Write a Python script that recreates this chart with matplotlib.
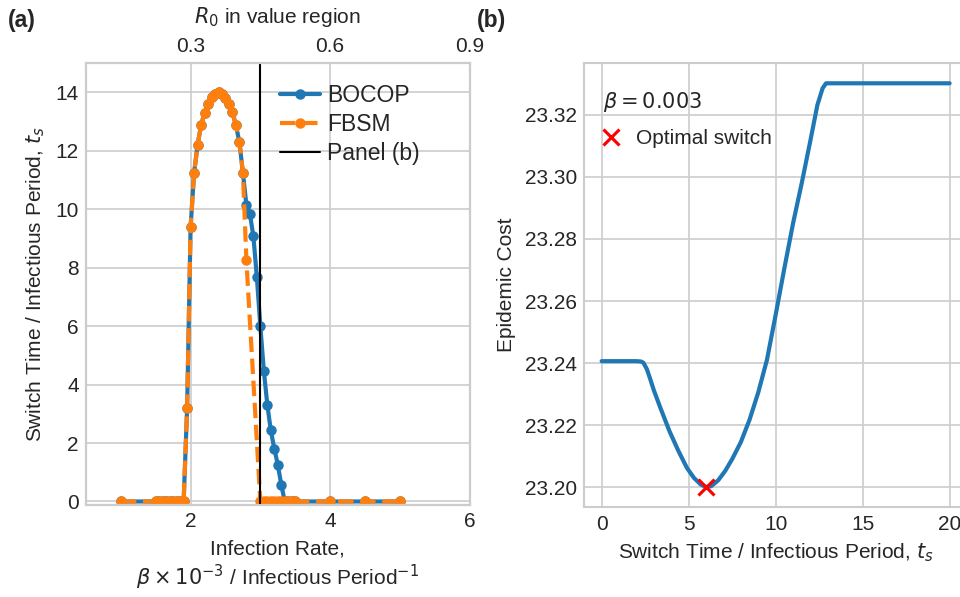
import matplotlib.pyplot as plt
import numpy as np

plt.style.use('seaborn-v0_8-whitegrid')
plt.rcParams['font.sans-serif'] = ['Liberation Sans', 'DejaVu Sans']

# switch time vs infection rate (beta in units of 1e-3)
beta_bocop = [1.0, 1.5, 1.55, 1.6, 1.65, 1.7, 1.75, 1.8, 1.85, 1.9, 1.95,
              2.0, 2.05, 2.1, 2.15, 2.2, 2.25, 2.3, 2.35, 2.4, 2.45, 2.5,
              2.55, 2.6, 2.65, 2.7, 2.75, 2.8, 2.85, 2.9, 2.95, 3.0, 3.05,
              3.1, 3.15, 3.2, 3.25, 3.3, 3.35, 3.4, 3.45, 3.5, 4.0, 4.5, 5.0]
ts_bocop = [0, 0, 0, 0, 0, 0, 0, 0, 0, 0, 3.2,
            9.4, 11.25, 12.2, 12.88, 13.3, 13.6, 13.83, 13.95, 14.0, 13.93, 13.8,
            13.62, 13.32, 12.87, 12.3, 11.25, 10.15, 9.85, 9.08, 7.68, 6.0, 4.48,
            3.31, 2.43, 1.81, 1.26, 0.58, 0, 0, 0, 0, 0, 0, 0]

beta_fbsm = [1.0, 1.5, 1.55, 1.6, 1.65, 1.7, 1.75, 1.8, 1.85, 1.9, 1.95,
             2.0, 2.05, 2.1, 2.15, 2.2, 2.25, 2.3, 2.35, 2.4, 2.45, 2.5,
             2.55, 2.6, 2.65, 2.7, 2.75, 2.8, 3.0, 3.05, 3.1, 3.15, 3.2,
             3.25, 3.3, 3.35, 3.4, 3.45, 3.5, 4.0, 4.5, 5.0]
ts_fbsm = [0, 0, 0, 0, 0, 0, 0, 0, 0, 0, 3.2,
           9.4, 11.25, 12.2, 12.88, 13.3, 13.6, 13.83, 13.95, 14.0, 13.93, 13.8,
           13.62, 13.32, 12.87, 12.3, 11.25, 8.25, 0, 0, 0, 0, 0,
           0, 0, 0, 0, 0, 0, 0, 0, 0]

beta_panel_b = 3.0
r0_ticks = [2, 4, 6]
r0_labels = ['0.3', '0.6', '0.9']

# epidemic cost vs switch time at beta = 0.003
t_switch = [0, 1, 2, 2.25, 2.4, 2.6, 2.8, 3.0, 3.4, 3.9, 4.4, 4.9, 5.3, 5.7,
            6.0, 6.3, 6.7, 7.1, 7.5, 8.0, 8.5, 9.0, 9.5, 10.0, 10.5, 11.0,
            11.5, 12.0, 12.4, 12.7, 12.9, 13.1, 15, 20]
cost = [23.2406, 23.2406, 23.2406, 23.2405, 23.2401, 23.2380, 23.2347,
        23.2312, 23.2252, 23.2180, 23.2118, 23.2062, 23.2030, 23.2008,
        23.2000, 23.2003, 23.2022, 23.2052, 23.2090, 23.2145, 23.2217,
        23.2305, 23.2410, 23.2555, 23.2705, 23.2850, 23.2980, 23.3118,
        23.3232, 23.3286, 23.3302, 23.3302, 23.3302, 23.3302]

fig = plt.figure(figsize=(6.4, 3.98), dpi=150)
ax1 = fig.add_axes([0.0896, 0.1541, 0.3995, 0.740])
ax2 = fig.add_axes([0.6086, 0.1503, 0.3987, 0.744])

ax1.plot(beta_bocop, ts_bocop, '-o', color='C0', lw=2, ms=4, label='BOCOP')
ax1.plot(beta_fbsm, ts_fbsm, '--o', color='C1', lw=2, ms=4, label='FBSM')
ax1.axvline(beta_panel_b, color='k', lw=1, label='Panel (b)')
ax1.set_xlim(0.5, 6)
ax1.set_ylim(-0.12, 15)
ax1.set_xticks([2, 4, 6])
ax1.set_yticks(range(0, 15, 2))
ax1.set_xlabel('Infection Rate,\n'
               r'$\beta \times 10^{-3}$ / Infectious Period$^{-1}$')
ax1.set_ylabel('Switch Time / Infectious Period, $t_s$')
ax1.legend(loc='upper left', bbox_to_anchor=(0.452, 1.0),
           fontsize=11, handlelength=1.75, handletextpad=0.3,
           labelspacing=0.27)

top = ax1.twiny()
top.set_xlim(ax1.get_xlim())
top.set_xticks(r0_ticks)
top.set_xticklabels(r0_labels)
top.grid(False)
top.set_xlabel('$R_0$ in value region', labelpad=6.5)

i_min = int(np.argmin(cost))
ax2.plot(t_switch, cost, color='C0', lw=2)
ax2.plot(t_switch[i_min], cost[i_min], 'x', color='red', ms=8, mew=1.5,
         label='Optimal switch', zorder=3)
ax2.set_xlim(-1, 21)
ax2.set_xticks([0, 5, 10, 15, 20])
ax2.set_xlabel('Switch Time / Infectious Period, $t_s$')
ax2.set_ylabel('Epidemic Cost')
ax2.legend(loc='upper left', bbox_to_anchor=(0, 0.982),
           title=r'$\beta = 0.003$', alignment='left', title_fontsize=10,
           handlelength=0.8, labelspacing=0.75)

fig.text(0.008, 0.955, '(a)', fontsize=11, fontweight='bold')
fig.text(0.497, 0.955, '(b)', fontsize=11, fontweight='bold')

fig.savefig('out.png', dpi=150)
